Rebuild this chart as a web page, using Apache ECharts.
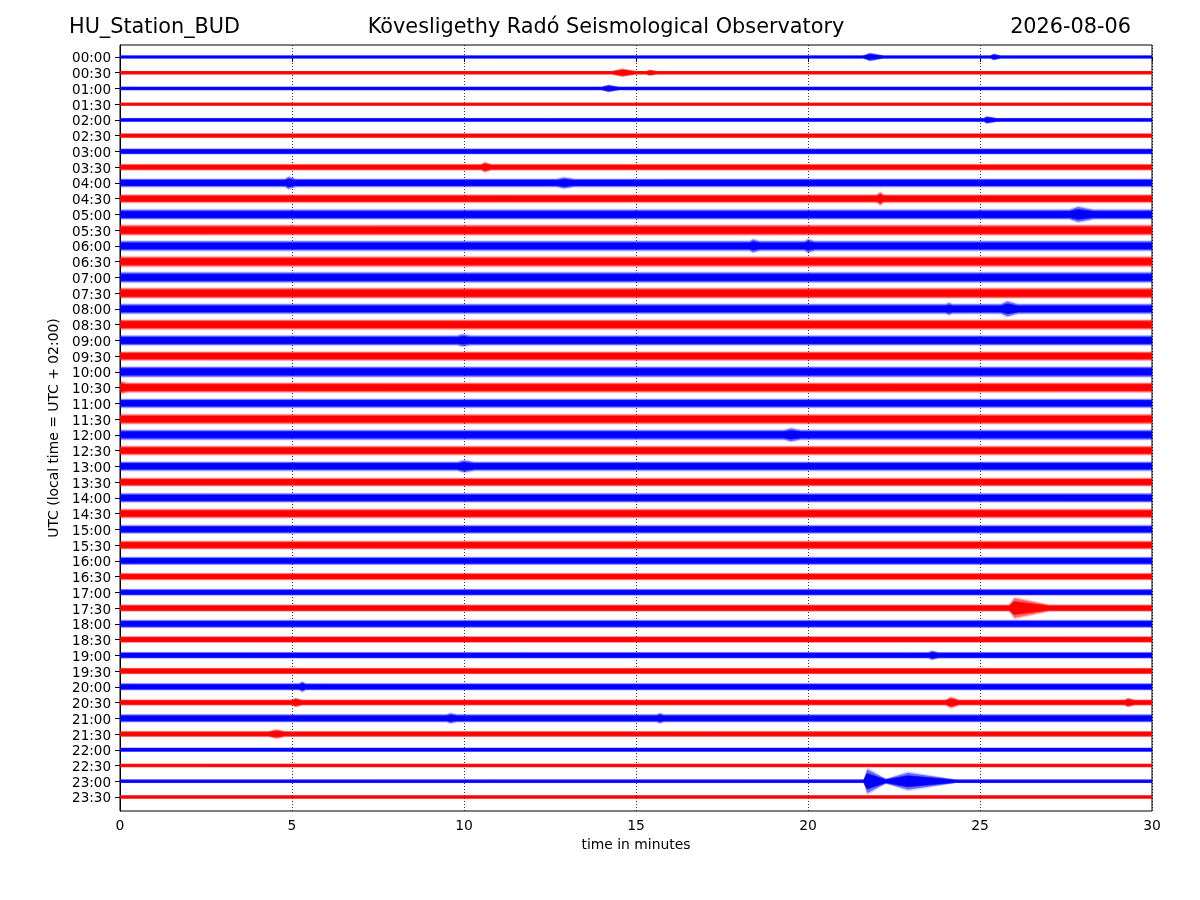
<!DOCTYPE html>
<html>
<head>
<meta charset="utf-8">
<script src="https://cdn.jsdelivr.net/npm/echarts@6/dist/echarts.min.js"></script>
<style>html,body{margin:0;padding:0;background:#fff}#c{width:1200px;height:900px}</style>
</head>
<body>
<div id="c"></div>
<script>
// ---- text ----
const stationName = 'HU_Station_BUD';
const observatoryName = 'Kövesligethy Radó Seismological Observatory';
const dateLabel = '2026-08-06';
const xAxisTitle = 'time in minutes';
const yAxisTitle = 'UTC (local time = UTC + 02:00)';

// ---- tick labels (one trace per half hour) ----
const timeLabels = [
  '00:00','00:30','01:00','01:30','02:00','02:30','03:00','03:30',
  '04:00','04:30','05:00','05:30','06:00','06:30','07:00','07:30',
  '08:00','08:30','09:00','09:30','10:00','10:30','11:00','11:30',
  '12:00','12:30','13:00','13:30','14:00','14:30','15:00','15:30',
  '16:00','16:30','17:00','17:30','18:00','18:30','19:00','19:30',
  '20:00','20:30','21:00','21:30','22:00','22:30','23:00','23:30'
];
const xTicks = [0, 5, 10, 15, 20, 25, 30];
const traceColors = ['#0000ff', '#ff0000'];

// ---- background noise level of each trace (amplitude units, 16 units = one trace spacing) ----
const baseAmplitude = [
  1.5, 1.7, 1.7, 1.5, 1.8, 2.2, 2.7, 3.0, 4.0, 4.0, 4.7, 5.0,
  4.7, 5.0, 5.0, 5.0, 4.7, 4.7, 4.7, 4.3, 5.0, 4.7, 4.3, 4.7,
  4.7, 4.3, 4.3, 4.0, 4.3, 4.3, 4.0, 4.0, 3.7, 3.3, 3.0, 3.3,
  3.7, 3.0, 3.0, 3.0, 3.3, 2.7, 3.7, 2.7, 2.0, 1.7, 1.7, 1.7
];

// ---- bursts / events: [trace index, start min, peak min, end min, peak amplitude] ----
const bursts = [
  [0, 21.6, 21.8, 22.2, 4],
  [0, 25.3, 25.4, 25.6, 3.2],
  [1, 14.3, 14.6, 15.0, 4],
  [1, 15.3, 15.4, 15.6, 3],
  [2, 14.0, 14.2, 14.5, 3.6],
  [4, 25.1, 25.2, 25.5, 3.6],
  [7, 10.5, 10.6, 10.8, 5],
  [8, 4.8, 4.9, 5.1, 6],
  [8, 12.7, 12.9, 13.2, 5.5],
  [9, 22.0, 22.1, 22.2, 6.5],
  [10, 27.6, 27.85, 28.3, 7.5],
  [12, 18.3, 18.4, 18.6, 6.5],
  [12, 19.9, 20.0, 20.2, 6.5],
  [16, 24.0, 24.1, 24.2, 6],
  [16, 25.6, 25.8, 26.1, 7.5],
  [18, 9.8, 9.95, 10.2, 6],
  [21, 0.0, 0.05, 0.2, 6],
  [24, 19.3, 19.5, 19.8, 6.5],
  [26, 9.8, 10.0, 10.3, 6],
  [35, 25.85, 26.0, 27.0, 10],
  [38, 23.5, 23.6, 23.8, 4.5],
  [40, 5.2, 5.3, 5.4, 5],
  [41, 5.0, 5.1, 5.3, 4.5],
  [41, 24.0, 24.15, 24.4, 5.5],
  [41, 29.2, 29.3, 29.5, 4.5],
  [42, 9.5, 9.6, 9.8, 5],
  [42, 15.6, 15.7, 15.8, 5],
  [43, 4.3, 4.55, 4.8, 4.5],
  [46, 21.62, 21.72, 22.3, 12],
  [46, 22.2, 22.9, 24.3, 8.5]
];
const ampUnitsPerTrace = 16;

// ---- rendering helpers ----
const FONT = 'DejaVu Sans';
function envelopeAt(i, t) {
  const base = baseAmplitude[i];
  let a = base;
  for (const b of bursts) {
    if (b[0] !== i || t < b[1] || t > b[3]) continue;
    const f = t <= b[2]
      ? (b[2] > b[1] ? (t - b[1]) / (b[2] - b[1]) : 1)
      : (b[3] > b[2] ? (b[3] - t) / (b[3] - b[2]) : 1);
    a = Math.max(a, base + (b[4] - base) * f);
  }
  return a;
}
function sampleTimes(i) {
  const s = [xTicks[0], xTicks[xTicks.length - 1]];
  for (const b of bursts) {
    if (b[0] !== i) continue;
    for (let t = b[1]; t <= b[3]; t += 0.02) s.push(+t.toFixed(3));
    s.push(b[1], b[2], b[3]);
  }
  return Array.from(new Set(s)).sort((a, b) => a - b);
}
function rgba(hex, a) {
  const r = parseInt(hex.slice(1, 3), 16), g = parseInt(hex.slice(3, 5), 16), bl = parseInt(hex.slice(5, 7), 16);
  return 'rgba(' + r + ',' + g + ',' + bl + ',' + a + ')';
}

const traceIdx = timeLabels.map((_, i) => i);

const chart = echarts.init(document.getElementById('c'), null, { renderer: 'canvas' });
chart.setOption({
  animation: false,
  backgroundColor: '#ffffff',
  textStyle: { fontFamily: FONT },
  grid: { left: 120, right: 48, top: 45, bottom: 89, show: true, borderColor: '#000', borderWidth: 1, backgroundColor: 'transparent' },
  graphic: [
    { type: 'text', x: 69, y: 28, style: { text: stationName, fontSize: 20.8, fontFamily: FONT, fill: '#000', align: 'left', verticalAlign: 'middle' } },
    { type: 'text', x: 606, y: 28, style: { text: observatoryName, fontSize: 20.8, fontFamily: FONT, fill: '#000', align: 'center', verticalAlign: 'middle' } },
    { type: 'text', x: 1131, y: 28, style: { text: dateLabel, fontSize: 20.8, fontFamily: FONT, fill: '#000', align: 'right', verticalAlign: 'middle' } }
  ],
  xAxis: {
    type: 'value', min: xTicks[0], max: xTicks[xTicks.length - 1], interval: 5,
    axisLine: { show: true, lineStyle: { color: '#000', width: 1 } },
    axisTick: { show: true, inside: false, length: 5, lineStyle: { color: '#000' } },
    axisLabel: { color: '#000', fontFamily: FONT, fontSize: 13.9, margin: 8 },
    splitLine: { show: true, lineStyle: { color: '#000', width: 0.8, type: [1, 2] } },
    name: xAxisTitle, nameLocation: 'middle', nameGap: 27,
    nameTextStyle: { color: '#000', fontFamily: FONT, fontSize: 13.9 }
  },
  yAxis: {
    type: 'value', inverse: true, min: -0.76, max: 47.89,
    axisLine: { show: true, onZero: false, lineStyle: { color: '#000', width: 1 } },
    axisTick: { show: true, inside: false, length: 5, customValues: traceIdx, lineStyle: { color: '#000' } },
    axisLabel: { color: '#000', fontFamily: FONT, fontSize: 13.5, margin: 9, customValues: traceIdx,
      formatter: v => '{t|' + (timeLabels[Math.round(v)] || '') + '}',
      rich: { t: { color: '#000', fontFamily: FONT, fontSize: 13.5, padding: [4, 0, 0, 0] } } },
    splitLine: { show: false },
    name: yAxisTitle, nameLocation: 'middle', nameGap: 48, nameRotate: 90,
    nameTextStyle: { color: '#000', fontFamily: FONT, fontSize: 13.9 }
  },
  series: [{
    type: 'custom',
    clip: true,
    encode: { x: 0, y: 1 },
    data: traceIdx.map(i => [0, i]),
    renderItem: function (params, api) {
      const i = api.value(1);
      const ts = sampleTimes(i);
      const color = traceColors[i % 2];
      const band = k => {
        const top = ts.map(t => api.coord([t, i - envelopeAt(i, t) * k / ampUnitsPerTrace]));
        const bot = ts.slice().reverse().map(t => api.coord([t, i + envelopeAt(i, t) * k / ampUnitsPerTrace]));
        return top.concat(bot);
      };
      return {
        type: 'group',
        children: [
          { type: 'polygon', shape: { points: band(1.2) }, style: { fill: rgba(color, 0.18) } },
          { type: 'polygon', shape: { points: band(1) }, style: { fill: rgba(color, 0.5) } },
          { type: 'polygon', shape: { points: band(0.65) }, style: { fill: color, stroke: color, lineWidth: 0.8 } }
        ]
      };
    }
  }]
});
</script>
</body>
</html>
